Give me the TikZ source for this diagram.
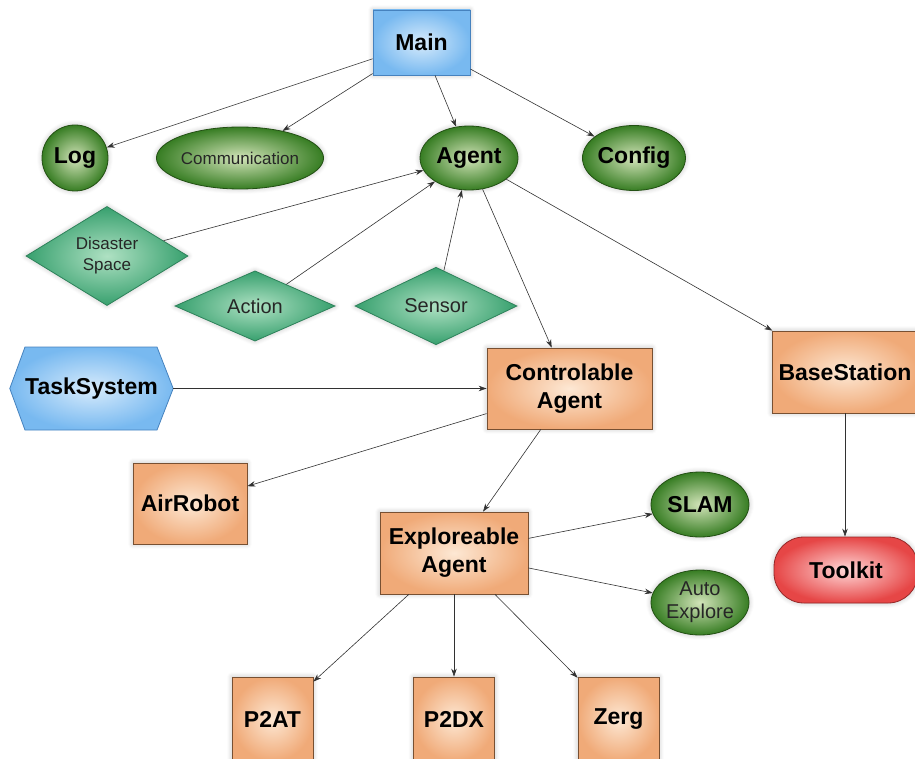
\documentclass[tikz,border=0pt]{standalone}
\usepackage{fontspec}
\setmainfont{Liberation Sans}
\usetikzlibrary{arrows.meta,shapes.geometric,shadows.blur}
\definecolor{bluein}{RGB}{215,235,252}
\definecolor{blueout}{RGB}{120,185,240}
\definecolor{blueedge}{RGB}{70,130,190}
\definecolor{greenin}{RGB}{210,228,185}
\definecolor{greenout}{RGB}{55,125,35}
\definecolor{greenedge}{RGB}{35,80,20}
\definecolor{tealin}{RGB}{175,225,195}
\definecolor{tealout}{RGB}{55,160,110}
\definecolor{tealedge}{RGB}{45,130,90}
\definecolor{orangein}{RGB}{253,232,212}
\definecolor{orangeout}{RGB}{240,170,120}
\definecolor{orangeedge}{RGB}{120,80,50}
\definecolor{redin}{RGB}{255,215,215}
\definecolor{redout}{RGB}{230,70,70}
\definecolor{rededge}{RGB}{150,40,40}
\definecolor{linec}{RGB}{50,50,50}
\tikzset{
  halo/.style={blur shadow={shadow xshift=0pt,shadow yshift=0pt,shadow blur radius=5pt,shadow opacity=25,shadow blur steps=6}},
  bigtxt/.style={font=\fontsize{23}{28}\selectfont\bfseries, align=center, text=black},
  smalltxt/.style={font=\fontsize{17}{21}\selectfont, align=center, text=black!85},
  bluebox/.style={rectangle, draw=blueedge, line width=0.8pt, shading=radial, inner color=bluein, outer color=blueout, halo, bigtxt},
  greenell/.style={ellipse, draw=greenedge, line width=0.8pt, shading=radial, inner color=greenin, outer color=greenout, halo, inner sep=0pt},
  tealdia/.style={diamond, draw=tealedge, line width=0.8pt, shading=radial, inner color=tealin, outer color=tealout, halo, inner sep=0pt, smalltxt},
  orangebox/.style={rectangle, draw=orangeedge, line width=0.8pt, shading=radial, inner color=orangein, outer color=orangeout, halo, bigtxt},
  redpill/.style={rectangle, rounded corners=30pt, draw=rededge, line width=0.8pt, shading=radial, inner color=redin, outer color=redout, halo, bigtxt},
  conn/.style={draw=linec, line width=0.6pt, -{Stealth[length=8pt,width=5.5pt]}},
}
\begin{document}
\begin{tikzpicture}[x=1pt,y=-1pt]
\useasboundingbox (0,0) rectangle (915,759);
\clip (0,0) rectangle (915,759);
% top
\node[bluebox, minimum width=97pt, minimum height=65pt] (main) at (421.5,42.5) {Main};
\node[greenell, circle, minimum size=66pt, bigtxt] (log) at (75,158) {Log};
\node[greenell, minimum width=165pt, minimum height=62pt, smalltxt, font=\fontsize{17}{20}\selectfont] (comm) at (240,158) {Communication};
\node[greenell, minimum width=98pt, minimum height=64pt, bigtxt] (agent) at (469,158) {Agent};
\node[greenell, minimum width=99pt, minimum height=65pt, bigtxt] (config) at (634,158) {Config};
% diamonds
\node[tealdia, minimum width=162pt, minimum height=97pt] (dis) at (107,256) {Disaster\\Space};
\node[tealdia, minimum width=160pt, minimum height=64pt, font=\fontsize{20}{22}\selectfont] (action) at (255,306) {Action};
\node[tealdia, minimum width=162pt, minimum height=64pt, font=\fontsize{20}{22}\selectfont] (sensor) at (436,306) {Sensor};
% task system hexagon
\node[minimum width=163pt, minimum height=83pt, inner sep=0pt] (ts) at (91.5,388.5) {};
\shade[draw=blueedge, line width=0.8pt, inner color=bluein, outer color=blueout] (ts.west) -- (25,347) -- (157,347) -- (ts.east) -- (157,430) -- (25,430) -- cycle;
\node[bigtxt] at (ts.center) {TaskSystem};
% boxes
\node[orangebox, minimum width=165pt, minimum height=81pt] (ctrl) at (569.5,388.5) {Controlable\\Agent};
\node[orangebox, minimum width=146pt, minimum height=82pt] (base) at (845,372) {BaseStation};
\node[orangebox, minimum width=114pt, minimum height=81pt] (air) at (190,503.5) {AirRobot};
\node[orangebox, minimum width=148pt, minimum height=82pt] (expl) at (454,553) {Exploreable\\Agent};
\node[greenell, minimum width=98pt, minimum height=65pt, bigtxt] (slam) at (700,504.5) {SLAM};
\node[greenell, minimum width=98pt, minimum height=65pt, smalltxt, font=\fontsize{20}{23}\selectfont] (auto) at (700,602.5) {Auto\\Explore};
\node[redpill, minimum width=144pt, minimum height=66pt] (tool) at (846,570) {Toolkit};
\node[orangebox, minimum width=81pt, minimum height=84pt] (p2at) at (272.5,719) {P2AT};
\node[orangebox, minimum width=81pt, minimum height=84pt] (p2dx) at (454,719) {P2DX};
\node[orangebox, minimum width=81pt, minimum height=84pt] (zerg) at (618.5,719) {Zerg};
% connectors
\draw[conn] (main) -- (log);
\draw[conn] (main) -- (comm);
\draw[conn] (main) -- (agent);
\draw[conn] (main) -- (config);
\draw[conn] (dis) -- (agent);
\draw[conn] (action) -- (agent);
\draw[conn] (sensor) -- (agent);
\draw[conn] (agent) -- (ctrl);
\draw[conn] (agent) -- (base);
\draw[conn] (ts) -- (ctrl);
\draw[conn] (ctrl) -- (air);
\draw[conn] (ctrl) -- (expl);
\draw[conn] (expl) -- (slam);
\draw[conn] (expl) -- (auto);
\draw[conn] (expl) -- (p2at);
\draw[conn] (expl) -- (p2dx);
\draw[conn] (expl) -- (zerg);
\draw[conn] (base) -- (base |- tool.north);
\end{tikzpicture}
\end{document}
